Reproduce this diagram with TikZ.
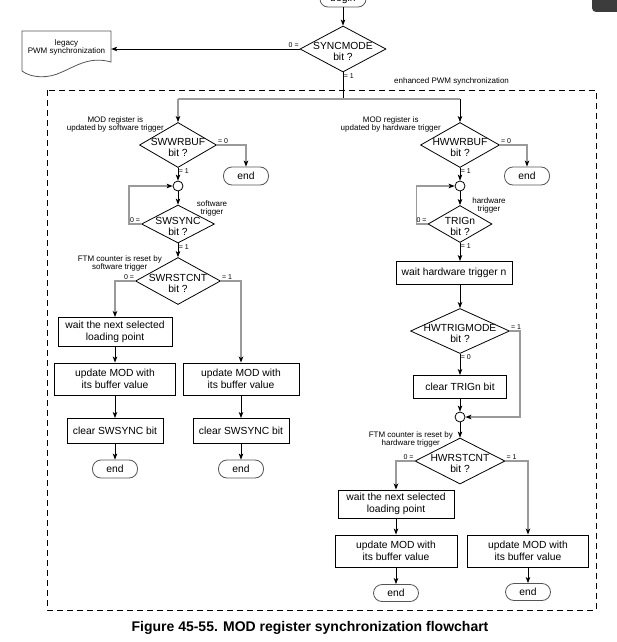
\documentclass[tikz,border=0pt]{standalone}
\usepackage{fontspec}
\setmainfont{Liberation Sans}
\usetikzlibrary{shapes.geometric, arrows.meta, positioning, calc}
\usepackage{xcolor}
\definecolor{FlowGray}{HTML}{9A9A9A}
\definecolor{EndGray}{HTML}{555555}
\definecolor{TabGray}{HTML}{3C3C3C}
\newcommand{\mainsize}{\fontsize{10.3}{11.5}\selectfont}
\newcommand{\notesize}{\fontsize{8}{8}\selectfont}
\newcommand{\branchsize}{\fontsize{7}{7}\selectfont}
\newcommand{\captionsize}{\fontsize{14}{16}\selectfont}
\tikzset{
    % Box styles
    process/.style={
        rectangle,
        draw=black,
        line width=0.9pt,
        inner sep=1pt,
        align=center,
        font=\mainsize
    },
    decision/.style={
        diamond,
        draw=black,
        line width=0.8pt,
        inner sep=0pt
    },
    dtext/.style={
        align=center,
        inner sep=0pt,
        yshift=-2.5pt,
        font=\fontsize{10.3}{10.3}\selectfont
    },
    terminal/.style={
        rectangle,
        rounded corners=8.5pt,
        draw=EndGray,
        line width=0.8pt,
        minimum width=45pt,
        minimum height=18pt,
        inner sep=0pt,
        font=\mainsize
    },
    junction/.style={
        circle,
        draw=black,
        line width=0.8pt,
        minimum size=10pt,
        inner sep=0pt
    },
    note/.style={
        align=center,
        inner sep=0pt,
        font=\notesize
    },
    branch/.style={
        inner sep=0.5pt,
        font=\branchsize
    },
    % Arrow styles
    arrow/.style={
        -{Stealth[length=6pt, width=4.5pt, inset=1.5pt]},
        line width=0.9pt,
        draw=black
    },
    plainline/.style={
        line width=0.9pt,
        draw=black
    },
    grayline/.style={
        line width=1.3pt,
        draw=FlowGray
    },
    grayarrow/.style={
        grayline,
        -{Stealth[length=6pt, width=4.5pt, inset=1.5pt, black]}
    },
    frame/.style={
        dashed,
        dash pattern=on 6pt off 4pt,
        line width=1pt
    }
}

\begin{document}
\begin{tikzpicture}[x=1pt, y=-1pt]
    \clip (0,0) rectangle (617,642);
    % window tab cut in the corner
    \fill[TabGray, rounded corners=4pt] (592,-10) rectangle (630,12);

    % top
    \node[terminal, minimum width=46pt, minimum height=16pt, rounded corners=8pt] (begin) at (343,-1) {begin};
    \node[decision, minimum width=86pt, minimum height=46pt, label={[dtext]center:{SYNCMODE\\bit ?}}] (syncmode) at (343,49) {};
    \draw[draw=EndGray, line width=0.8pt] (22,31) -- (111,31) -- (111,62)
        .. controls (90,56) and (76,66) .. (62,72)
        .. controls (48,79) and (31,78) .. (22,71) -- cycle;
    \node[note, minimum width=89pt] (legacy) at (66.5,47) {legacy\\PWM synchronization};
    \node[note, anchor=west] (enhanced) at (394,81) {enhanced PWM synchronization};
    \draw[frame] (47,90) rectangle (596,610);

    \draw[arrow] (begin.south) -- (syncmode.north);
    \draw[arrow] (syncmode.west) node[branch, anchor=south east] (sync0) {0 =} -- (syncmode.west -| legacy.east);
    \draw[plainline] (syncmode.south) node[branch, anchor=north west] (sync1) {= 1} -- (343,99) coordinate (split);

    % software trigger side
    \node[decision, minimum width=77pt, minimum height=45pt, label={[dtext]center:{SWWRBUF\\bit ?}}] (swwrbuf) at (178,145) {};
    \node[note, anchor=south east] (swmodnote) at (164,132) {MOD register is\\updated by software trigger};
    \node[terminal] (swend) at (246,176) {end};
    \node[junction] (swjoin) at (178,186) {};
    \node[decision, minimum width=73pt, minimum height=38pt, label={[dtext]center:{SWSYNC\\bit ?}}] (swsync) at (178,224) {};
    \node[note] (swtrignote) at (212,208) {software\\trigger};
    \node[decision, minimum width=85pt, minimum height=47pt, label={[dtext]center:{SWRSTCNT\\bit ?}}] (swrstcnt) at (178,281) {};
    \node[note, anchor=south east] (swrstnote) at (162,271) {FTM counter is reset by\\software trigger};
    \node[process, minimum width=114pt, minimum height=29pt] (swwait) at (115,332) {wait the next selected\\loading point};
    \node[process, minimum width=121pt, minimum height=32pt] (swupdA) at (115,379) {update MOD with\\its buffer value};
    \node[process, minimum width=96pt, minimum height=25pt] (swclrA) at (115,431) {clear SWSYNC bit};
    \node[terminal] (swendA) at (115,469) {end};
    \node[process, minimum width=116pt, minimum height=32pt] (swupdB) at (241,379) {update MOD with\\its buffer value};
    \node[process, minimum width=96pt, minimum height=25pt] (swclrB) at (241,431) {clear SWSYNC bit};
    \node[terminal] (swendB) at (241,469) {end};

    % hardware trigger side
    \node[decision, minimum width=79pt, minimum height=45pt, label={[dtext]center:{HWWRBUF\\bit ?}}] (hwwrbuf) at (460,145) {};
    \node[note, anchor=south east] (hwmodnote) at (441,132) {MOD register is\\updated by hardware trigger};
    \node[terminal] (hwend) at (527,176) {end};
    \node[junction] (hwjoin) at (460,186) {};
    \node[decision, minimum width=64pt, minimum height=37pt, label={[dtext]center:{TRIGn\\bit ?}}] (trign) at (460,224) {};
    \node[note] (hwtrignote) at (489,205) {hardware\\trigger};
    \node[process, minimum width=116pt, minimum height=23pt] (hwwait) at (454,273) {wait hardware trigger n};
    \node[decision, minimum width=99pt, minimum height=45pt, label={[dtext]center:{HWTRIGMODE\\bit ?}}] (hwtrigmode) at (460,331) {};
    \node[process, minimum width=93pt, minimum height=23pt] (clrtrig) at (460,387) {clear TRIGn bit};
    \node[junction] (hwjoinB) at (460,417) {};
    \node[decision, minimum width=90pt, minimum height=46pt, label={[dtext]center:{HWRSTCNT\\bit ?}}] (hwrstcnt) at (460,461) {};
    \node[note, anchor=south east] (hwrstnote) at (453,447) {FTM counter is reset by\\hardware trigger};
    \node[process, minimum width=116pt, minimum height=28pt] (hwwaitB) at (396,504) {wait the next selected\\loading point};
    \node[process, minimum width=122pt, minimum height=32pt] (hwupdA) at (396,551) {update MOD with\\its buffer value};
    \node[terminal, minimum height=17pt] (hwendA) at (396,593) {end};
    \node[process, minimum width=121pt, minimum height=32pt] (hwupdB) at (528,551) {update MOD with\\its buffer value};
    \node[terminal, minimum height=17pt] (hwendB) at (528,592) {end};

    % split into both sides
    \draw[grayline] (swwrbuf.north |- split) -- (hwwrbuf.north |- split);
    \draw[grayarrow] (swwrbuf.north |- split) -- (swwrbuf.north);
    \draw[arrow] (hwwrbuf.north |- split) -- (hwwrbuf.north);

    % software connectors
    \draw[grayarrow] (swwrbuf.east) node[branch, anchor=south west] (swwrbuf0) {= 0} -| (swend.north);
    \draw[arrow] (swwrbuf.south) node[branch, anchor=north west] (swwrbuf1) {= 1} -- (swjoin.north);
    \draw[arrow] (swjoin.south) -- (swsync.north);
    \draw[grayarrow] (swsync.west) node[branch, anchor=south east] (swsync0) {0 =} -- ++(-12,0) |- (swjoin.west);
    \draw[arrow] (swsync.south) node[branch, anchor=north west] (swsync1) {= 1} -- (swrstcnt.north);
    \draw[grayarrow] (swrstcnt.west) node[branch, anchor=south east] (swrst0) {0 =} -| (swwait.north);
    \draw[grayarrow] (swrstcnt.east) node[branch, anchor=south west] (swrst1) {= 1} -| (swupdB.north);
    \draw[arrow] (swwait) -- (swupdA);
    \draw[arrow] (swupdA) -- (swclrA);
    \draw[arrow] (swclrA) -- (swendA);
    \draw[arrow] (swupdB) -- (swclrB);
    \draw[arrow] (swclrB) -- (swendB);

    % hardware connectors
    \draw[grayarrow] (hwwrbuf.east) node[branch, anchor=south west] (hwwrbuf0) {= 0} -| (hwend.north);
    \draw[arrow] (hwwrbuf.south) node[branch, anchor=north west] (hwwrbuf1) {= 1} -- (hwjoin.north);
    \draw[arrow] (hwjoin.south) -- (trign.north);
    \draw[grayarrow] (trign.west) node[branch, anchor=south east] (trign0) {0 =} -- ++(-11,0) |- (hwjoin.west);
    \draw[arrow] (trign.south) node[branch, anchor=north west] (trign1) {= 1} -- (trign.south |- hwwait.north);
    \draw[arrow] (hwtrigmode.north |- hwwait.south) -- (hwtrigmode.north);
    \draw[grayarrow] (hwtrigmode.east) node[branch, anchor=south west] (hwtrig1) {= 1} -- ++(10,0) |- (hwjoinB.east);
    \draw[arrow] (hwtrigmode.south) node[branch, anchor=north west] (hwtrig0) {= 0} -- (clrtrig.north);
    \draw[arrow] (clrtrig) -- (hwjoinB);
    \draw[arrow] (hwjoinB) -- (hwrstcnt.north);
    \draw[grayarrow] (hwrstcnt.west) node[branch, anchor=south east] (hwrst0) {0 =} -| (hwwaitB.north);
    \draw[grayarrow] (hwrstcnt.east) node[branch, anchor=south west] (hwrst1) {= 1} -| (hwupdB.north);
    \draw[arrow] (hwwaitB) -- (hwupdA);
    \draw[arrow] (hwupdA) -- (hwendA);
    \draw[arrow] (hwupdB) -- (hwendB);

    \node[font=\captionsize\bfseries] (caption) at (310,628) {Figure 45-55. MOD register synchronization flowchart};
\end{tikzpicture}
\end{document}
